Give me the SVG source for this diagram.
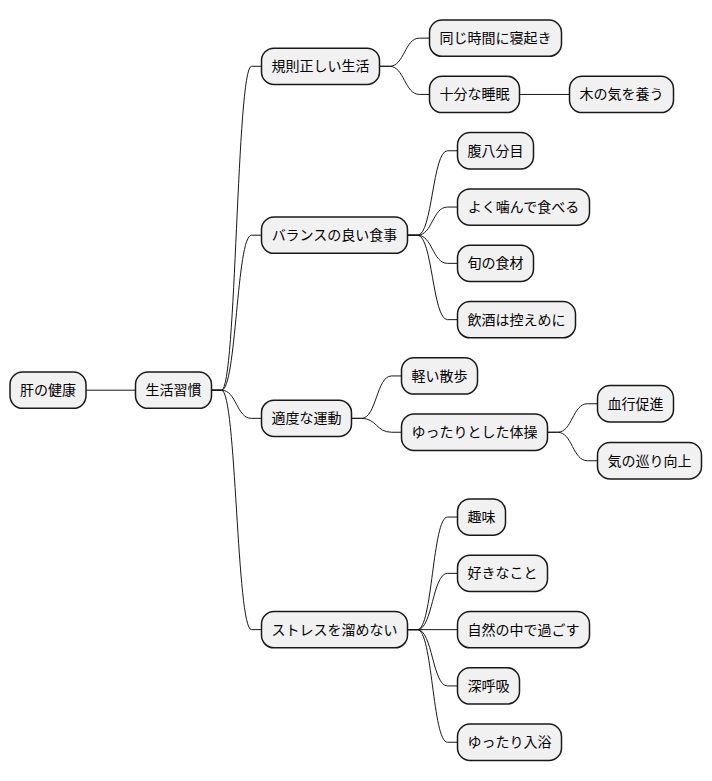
<svg xmlns="http://www.w3.org/2000/svg" width="712" height="781" viewBox="0 0 712 781">
<style>
.node rect{fill:#F1F1F1;stroke:#181818;stroke-width:1.5}
.node text{font-family:"Noto Sans CJK JP","Noto Sans CJK SC",sans-serif;font-size:14px;fill:#000000;text-anchor:middle}
.links path{fill:none;stroke:#181818;stroke-width:1}
</style>
<rect width="712" height="781" fill="#FFFFFF"/>
<g class="links">
<path d="M86,390.2 L135.5,390.2"/>
<path d="M211.5,390.2 L221.5,390.2 C236.5,390.2 236.5,66.3 251.5,66.3 L261.5,66.3"/>
<path d="M211.5,390.2 L221.5,390.2 C236.5,390.2 236.5,235.2 251.5,235.2 L261.5,235.2"/>
<path d="M211.5,390.2 L221.5,390.2 C236.5,390.2 236.5,418.35 251.5,418.35 L261.5,418.35"/>
<path d="M211.5,390.2 L221.5,390.2 C236.5,390.2 236.5,629.65 251.5,629.65 L261.5,629.65"/>
<path d="M379.5,66.3 L389.5,66.3 C404.5,66.3 404.5,38.15 419.5,38.15 L429.5,38.15"/>
<path d="M379.5,66.3 L389.5,66.3 C404.5,66.3 404.5,94.45 419.5,94.45 L429.5,94.45"/>
<path d="M519.5,94.45 L569.5,94.45"/>
<path d="M407.5,235.2 L417.5,235.2 C432.5,235.2 432.5,150.75 447.5,150.75 L457.5,150.75"/>
<path d="M407.5,235.2 L417.5,235.2 C432.5,235.2 432.5,207.05 447.5,207.05 L457.5,207.05"/>
<path d="M407.5,235.2 L417.5,235.2 C432.5,235.2 432.5,263.35 447.5,263.35 L457.5,263.35"/>
<path d="M407.5,235.2 L417.5,235.2 C432.5,235.2 432.5,319.65 447.5,319.65 L457.5,319.65"/>
<path d="M351.5,418.35 L361.5,418.35 C376.5,418.35 376.5,375.95 391.5,375.95 L401.5,375.95"/>
<path d="M351.5,418.35 L361.5,418.35 C376.5,418.35 376.5,432.25 391.5,432.25 L401.5,432.25"/>
<path d="M547.5,432.25 L557.5,432.25 C572.5,432.25 572.5,403.75 587.5,403.75 L597.5,403.75"/>
<path d="M547.5,432.25 L557.5,432.25 C572.5,432.25 572.5,460.75 587.5,460.75 L597.5,460.75"/>
<path d="M407.5,629.65 L417.5,629.65 C432.5,629.65 432.5,517.05 447.5,517.05 L457.5,517.05"/>
<path d="M407.5,629.65 L417.5,629.65 C432.5,629.65 432.5,573.35 447.5,573.35 L457.5,573.35"/>
<path d="M407.5,629.65 L457.5,629.65"/>
<path d="M407.5,629.65 L417.5,629.65 C432.5,629.65 432.5,685.95 447.5,685.95 L457.5,685.95"/>
<path d="M407.5,629.65 L417.5,629.65 C432.5,629.65 432.5,742.25 447.5,742.25 L457.5,742.25"/>
</g>
<g id="n1" class="node"><rect x="10" y="372.05" width="76" height="36.3" rx="12.5"/><text x="48" y="395.2">肝の健康</text></g>
<g id="n2" class="node"><rect x="135.5" y="372.05" width="76" height="36.3" rx="12.5"/><text x="173.5" y="395.2">生活習慣</text></g>
<g id="n3" class="node"><rect x="261.5" y="48.15" width="118" height="36.3" rx="12.5"/><text x="320.5" y="71.3">規則正しい生活</text></g>
<g id="n4" class="node"><rect x="429.5" y="20" width="132" height="36.3" rx="12.5"/><text x="495.5" y="43.15">同じ時間に寝起き</text></g>
<g id="n5" class="node"><rect x="429.5" y="76.3" width="90" height="36.3" rx="12.5"/><text x="474.5" y="99.45">十分な睡眠</text></g>
<g id="n6" class="node"><rect x="569.5" y="76.3" width="104" height="36.3" rx="12.5"/><text x="621.5" y="99.45">木の気を養う</text></g>
<g id="n7" class="node"><rect x="261.5" y="217.05" width="146" height="36.3" rx="12.5"/><text x="334.5" y="240.2">バランスの良い食事</text></g>
<g id="n8" class="node"><rect x="457.5" y="132.6" width="76" height="36.3" rx="12.5"/><text x="495.5" y="155.75">腹八分目</text></g>
<g id="n9" class="node"><rect x="457.5" y="188.9" width="132" height="36.3" rx="12.5"/><text x="523.5" y="212.05">よく噛んで食べる</text></g>
<g id="n10" class="node"><rect x="457.5" y="245.2" width="76" height="36.3" rx="12.5"/><text x="495.5" y="268.35">旬の食材</text></g>
<g id="n11" class="node"><rect x="457.5" y="301.5" width="118" height="36.3" rx="12.5"/><text x="516.5" y="324.65">飲酒は控えめに</text></g>
<g id="n12" class="node"><rect x="261.5" y="400.2" width="90" height="36.3" rx="12.5"/><text x="306.5" y="423.35">適度な運動</text></g>
<g id="n13" class="node"><rect x="401.5" y="357.8" width="76" height="36.3" rx="12.5"/><text x="439.5" y="380.95">軽い散歩</text></g>
<g id="n14" class="node"><rect x="401.5" y="414.1" width="146" height="36.3" rx="12.5"/><text x="474.5" y="437.25">ゆったりとした体操</text></g>
<g id="n15" class="node"><rect x="597.5" y="385.6" width="76" height="36.3" rx="12.5"/><text x="635.5" y="408.75">血行促進</text></g>
<g id="n16" class="node"><rect x="597.5" y="442.6" width="104" height="36.3" rx="12.5"/><text x="649.5" y="465.75">気の巡り向上</text></g>
<g id="n17" class="node"><rect x="261.5" y="611.5" width="146" height="36.3" rx="12.5"/><text x="334.5" y="634.65">ストレスを溜めない</text></g>
<g id="n18" class="node"><rect x="457.5" y="498.9" width="48" height="36.3" rx="12.5"/><text x="481.5" y="522.05">趣味</text></g>
<g id="n19" class="node"><rect x="457.5" y="555.2" width="90" height="36.3" rx="12.5"/><text x="502.5" y="578.35">好きなこと</text></g>
<g id="n20" class="node"><rect x="457.5" y="611.5" width="132" height="36.3" rx="12.5"/><text x="523.5" y="634.65">自然の中で過ごす</text></g>
<g id="n21" class="node"><rect x="457.5" y="667.8" width="62" height="36.3" rx="12.5"/><text x="488.5" y="690.95">深呼吸</text></g>
<g id="n22" class="node"><rect x="457.5" y="724.1" width="104" height="36.3" rx="12.5"/><text x="509.5" y="747.25">ゆったり入浴</text></g>
</svg>
